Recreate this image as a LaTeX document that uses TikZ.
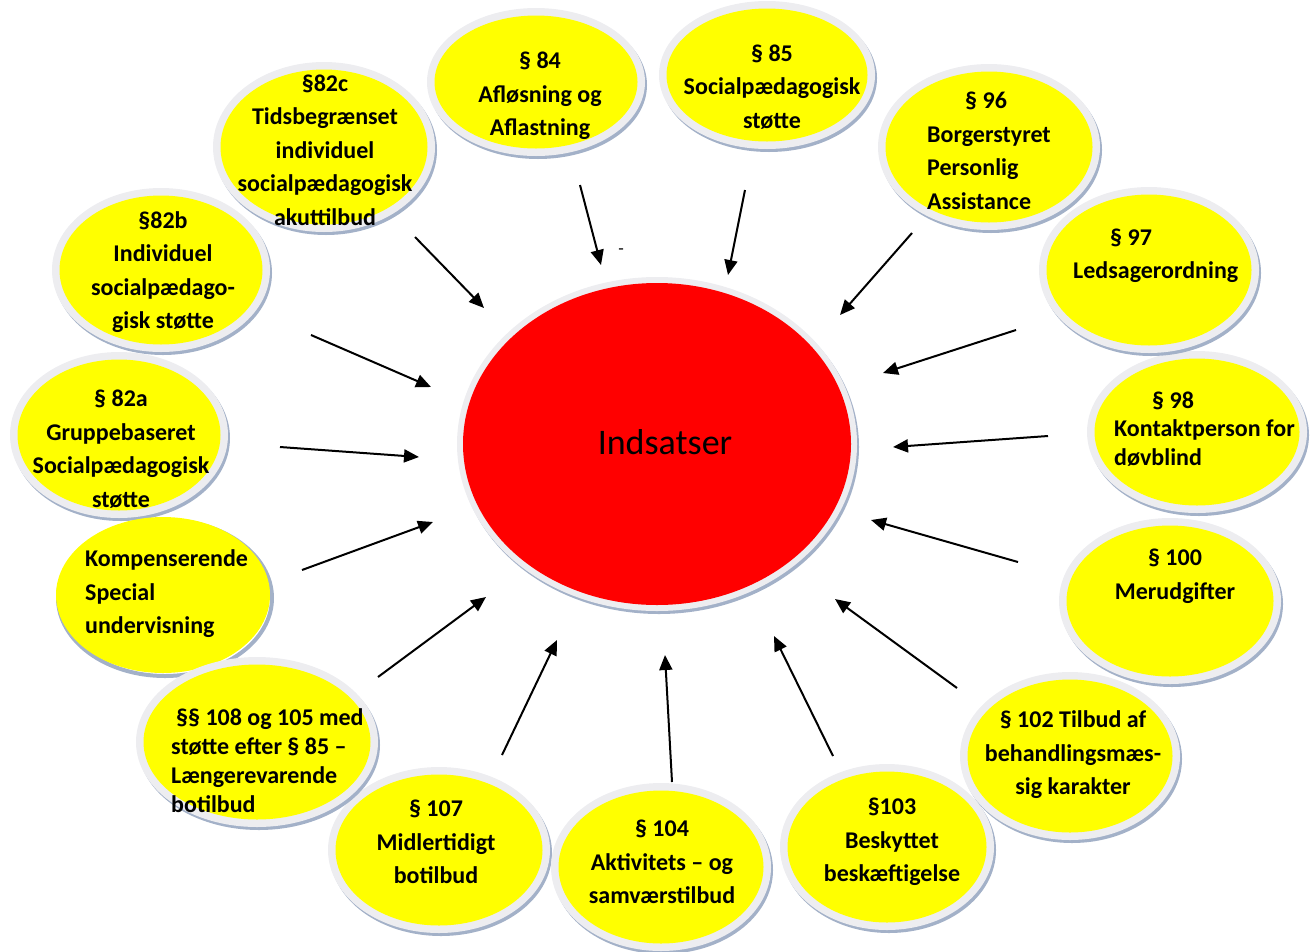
\documentclass[tikz,border=0pt]{standalone}
\usepackage{fontspec}
\setmainfont{Carlito}
\usetikzlibrary{shapes.geometric,arrows.meta}
\definecolor{ringgrey}{HTML}{EDEDF0}
\definecolor{shadeblue}{HTML}{A3B1C8}
\definecolor{sunyellow}{HTML}{FFFF00}
\definecolor{hubred}{HTML}{FF0000}
\begin{document}
\begin{tikzpicture}[x=1pt, y=-1pt]
    \tikzset{>={Triangle[length=15pt,width=13pt]}}
    \tikzset{
      dims/.style 2 args={minimum width=#1pt, minimum height=#2pt},
      shade/.style={preaction={draw=shadeblue, line width=#1, transform canvas={xshift=2pt, yshift=-3pt}}},
      bubble/.style={ellipse, inner sep=0pt, fill=sunyellow, shade=15pt,
        preaction={draw=ringgrey, line width=15pt}},
      flatbubble/.style={ellipse, inner sep=0pt, fill=sunyellow, shade=4pt},
      core/.style={ellipse, inner sep=0pt, fill=hubred, shade=12pt,
        preaction={draw=ringgrey, line width=12pt}},
      lbl/.style={font=\bfseries\fontsize{24}{33.5}\selectfont, align=center, inner sep=0pt},
      lbll/.style={lbl, align=left, anchor=west},
      arr/.style={->, line width=2pt}
    }
    \useasboundingbox (0,0) rectangle (1313,951);
    \node[core, dims={388}{322}] (hub) at (657,444) {};
    \node[font=\fontsize{36}{40}\selectfont] (hubtext) at (665,442) {Indsatser};

    \node[bubble, dims={203}{149}] (p82b) at (161,270) {};
    \node[bubble, dims={203}{151}] (p82a) at (119,435) {};
    \node[flatbubble, dims={214}{156}] (pkomp) at (163,595) {};
    \node[bubble, dims={207}{151}] (p107) at (439,850) {};
    \node[bubble, dims={227}{155}] (p108) at (257,742) {};
    \node[bubble, dims={205}{153}] (p104) at (661,867) {};
    \node[bubble, dims={199}{151}] (p103) at (887,847) {};
    \node[bubble, dims={205}{153}] (p102) at (1070,756) {};
    \node[bubble, dims={207}{151}] (p100) at (1170,601) {};
    \node[bubble, dims={205}{147}] (p98) at (1197,432) {};
    \node[bubble, dims={205}{151}] (p97) at (1149,270) {};
    \node[bubble, dims={207}{151}] (p96) at (989,147) {};
    \node[bubble, dims={201}{133}] (p85) at (767,75) {};
    \node[bubble, dims={203}{133}] (p84) at (536,82) {};
    \node[bubble, dims={207}{155}] (p82c) at (324,147) {};

    \node[lbl] (t84) at (540,96) {§ 84\\Afløsning og\\Aflastning};
    \node[lbl] (t85) at (772,87) {§ 85\\Socialpædagogisk\\støtte};
    \node[lbll] (t96) at (927,151) {\hspace*{38pt}§ 96\\Borgerstyret\\Personlig\\Assistance};
    \node[lbll] (t97) at (1073,256) {\hspace*{37pt}§ 97\\Ledsagerordning};
    \node[lbll, font=\bfseries\fontsize{24}{28.5}\selectfont] (t98) at (1114,429) {\hspace*{38pt}§ 98\\Kontaktperson for\\døvblind};
    \node[lbl] (t100) at (1175,576) {§ 100\\Merudgifter};
    \node[lbl] (t102) at (1073,755) {§ 102 Tilbud af\\behandlingsmæs-\\sig karakter};
    \node[lbl] (t103) at (892,842) {§103\\Beskyttet\\beskæftigelse};
    \node[lbl] (t104) at (662,862) {§ 104\\Aktivitets – og\\samværstilbud};
    \node[lbl] (t107) at (436,842) {§ 107\\Midlertidigt\\botilbud};
    \node[lbll, font=\bfseries\fontsize{24}{29}\selectfont] (t108) at (171,761) {\hspace*{5pt}§§ 108 og 105 med\\støtte efter § 85 –\\Længerevarende\\botilbud};
    \node[lbll] (tkomp) at (85,594) {Kompenserende\\Special\\undervisning};
    \node[lbl] (t82a) at (121,449) {§ 82a\\Gruppebaseret\\Socialpædagogisk\\støtte};
    \node[lbl] (t82b) at (163,272) {§82b\\Individuel\\socialpædago-\\gisk støtte};
    \node[lbl] (t82c) at (325,150) {§82c\\Tidsbegrænset\\individuel\\socialpædagogisk\\akuttilbud};
    \node[font=\fontsize{18}{20}\selectfont] (dash) at (621,252) {-};

    \foreach \n/\sx/\sy/\ex/\ey in {82c/415/237/484/308, 84/580/185/601/265,
        85/745/190/728/275, 96/912/233/840/315, 97/1016/330/883/373,
        98/1048/436/893/447, 100/1018/562/871/520, 102/957/688/835/599,
        103/833/756/774/636, 104/672/782/665/655, 107/502/755/557/640,
        108/378/677/486/597, komp/302/570/433/522, 82a/280/447/419/457,
        82b/311/335/431/387} {
      \coordinate (s\n) at (\sx,\sy);
      \coordinate (e\n) at (\ex,\ey);
      \draw[arr] (s\n) -- (e\n);
    }
\end{tikzpicture}
\end{document}
